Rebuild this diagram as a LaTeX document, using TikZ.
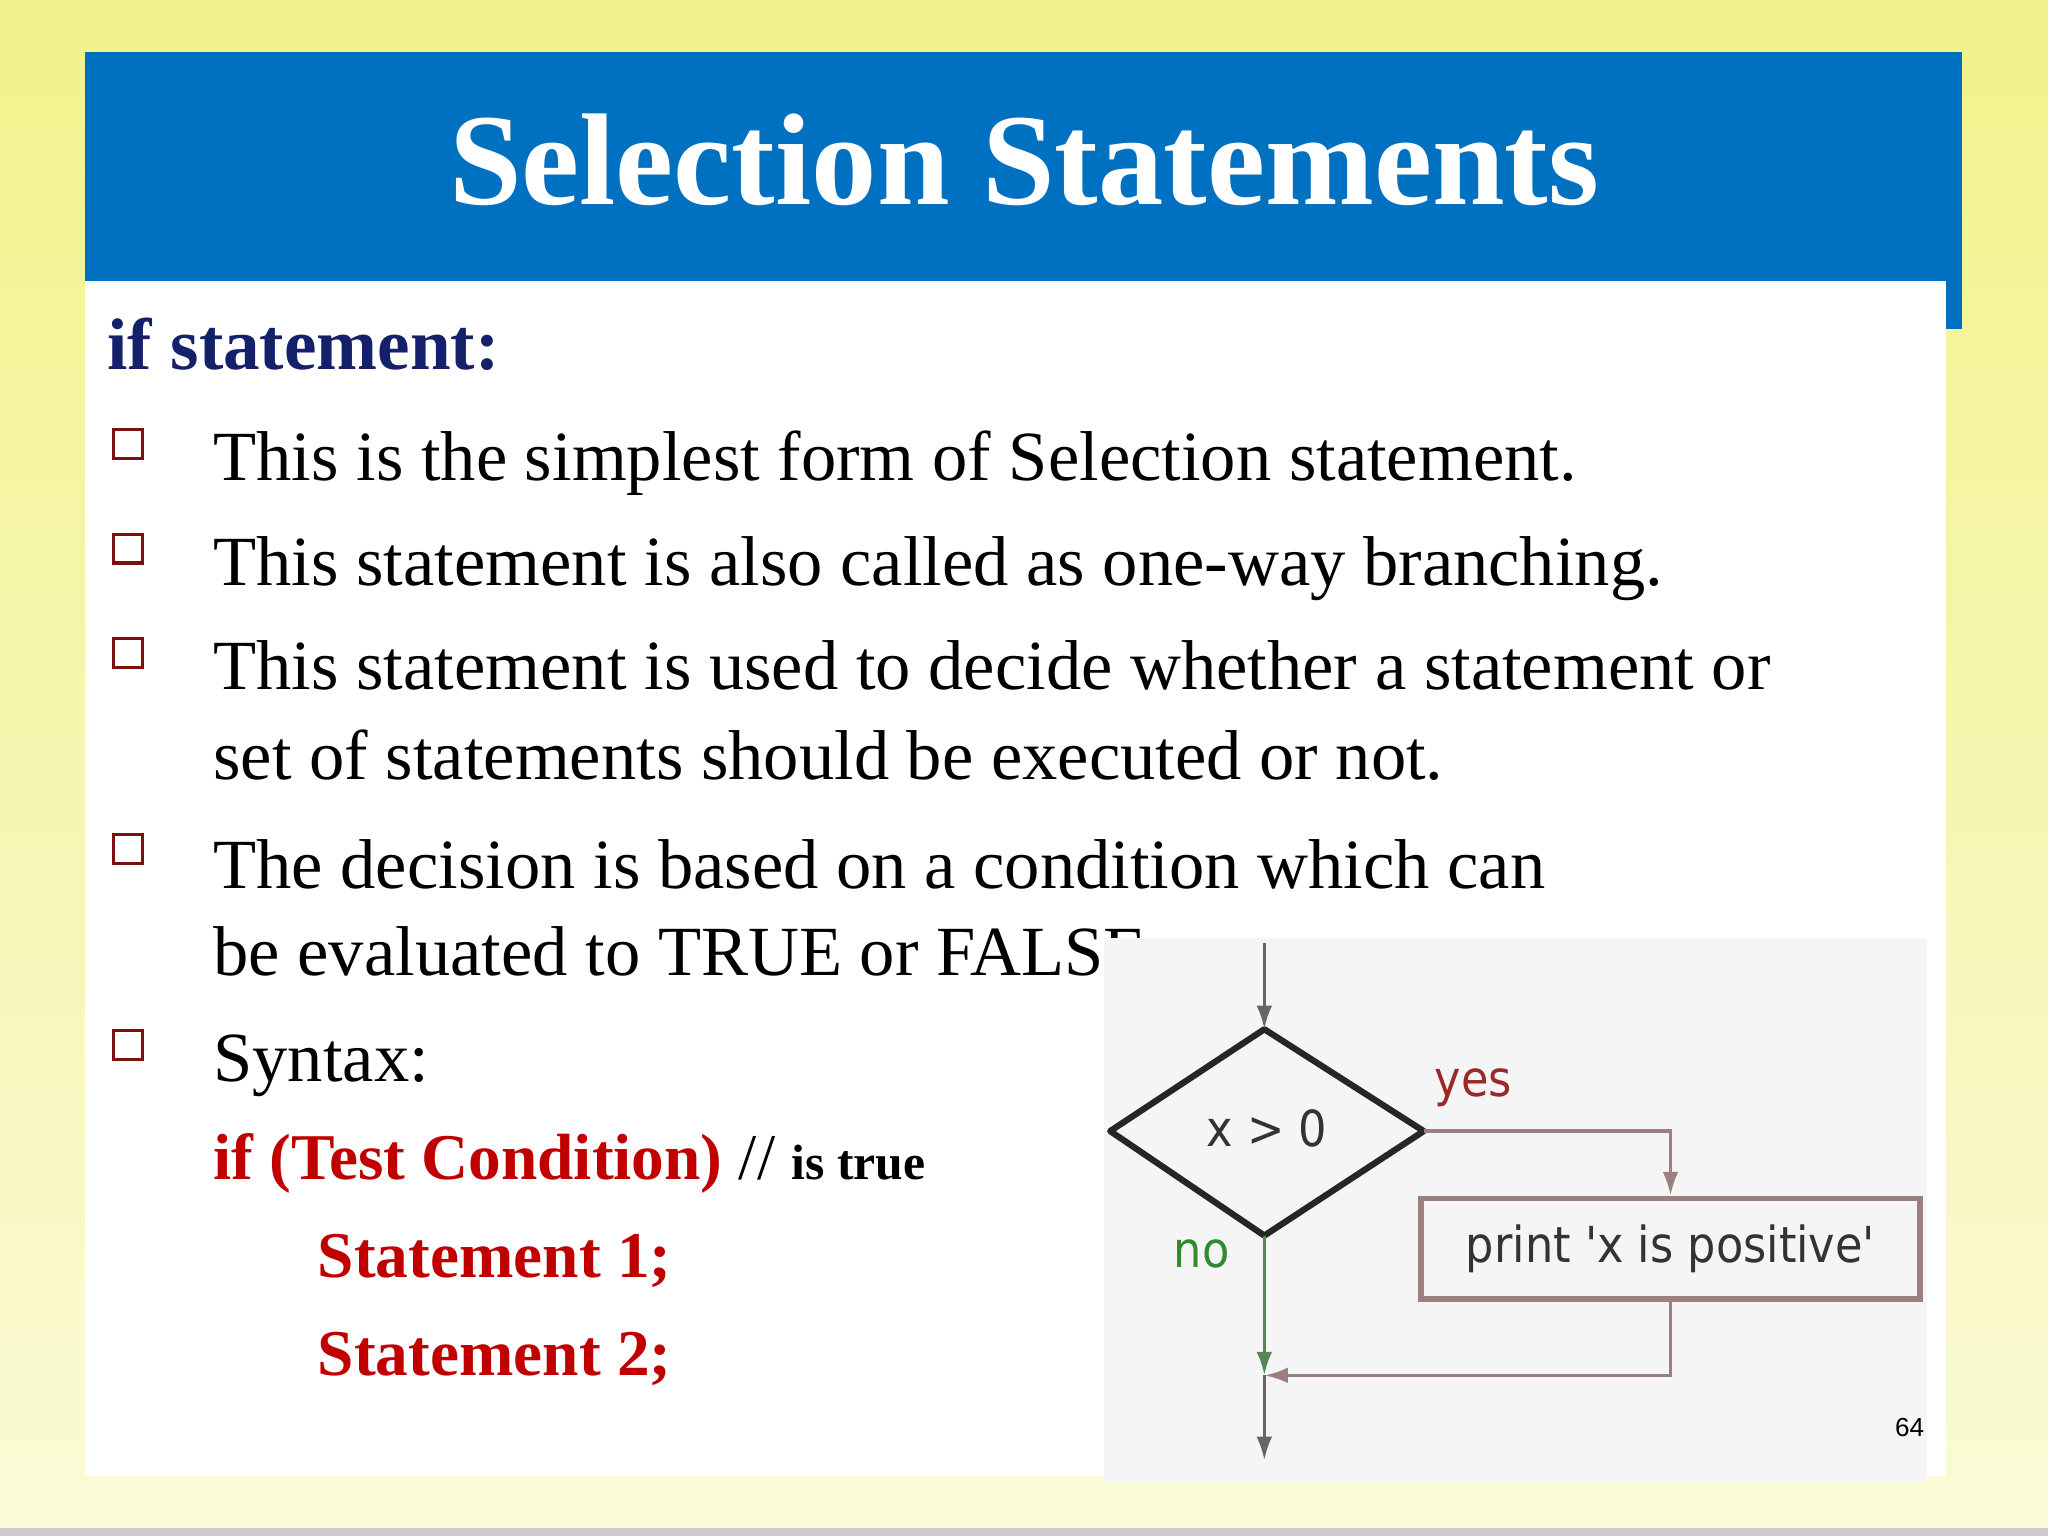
\documentclass[tikz,border=0pt]{standalone}
\usepackage{fontspec}
\setmainfont{Liberation Serif}
\newfontfamily\fc{DejaVu Sans Condensed}
\newfontfamily\fs{Liberation Sans}
\usetikzlibrary{arrows.meta}
\definecolor{hblue}{HTML}{0070C0}
\definecolor{navy}{HTML}{14206A}
\definecolor{cred}{HTML}{C00000}
\definecolor{bred}{HTML}{7A1010}
\definecolor{yesc}{HTML}{9A2A2A}
\definecolor{noc}{HTML}{2E8B2E}
\definecolor{boxc}{HTML}{9C8080}
\tikzset{
 body/.style={anchor=base west,inner sep=0pt,font=\fontsize{27}{30}\selectfont},
 bul/.style={draw=bred,line width=1.2pt,minimum size=11pt,inner sep=0pt},
 code/.style={anchor=base west,inner sep=0pt,text=cred,font=\bfseries\fontsize{25}{28}\selectfont},
 fl/.style={line width=1.3pt,-{Latex[length=9pt,width=6pt]}},
}
\begin{document}
\begin{tikzpicture}[x=0.5pt,y=-0.5pt]
\useasboundingbox (0,0) rectangle (1568,1176);
\shade[top color={rgb,255:red,242;green,242;blue,140},bottom color={rgb,255:red,250;green,250;blue,215}] (0,0) rectangle (1568,1176);
\fill[gray!40] (0,1170) rectangle (1568,1176);
\fill[hblue] (65,40) rectangle (1502,252);
\fill[white] (65,215) rectangle (1490,1130);
\node[text=white,font=\bfseries\fontsize{50}{55}\selectfont] (title) at (784,122) {Selection Statements};
\node[anchor=base west,inner sep=0pt,text=navy,font=\bfseries\fontsize{28}{30}\selectfont] (ifs) at (82,283) {if statement:};
\foreach \y/\n in {340/b1,420/b2,500/b3,650/b4,800/b5} \node[bul] (\n) at (98,\y) {};
\node[body] (t1) at (163,368) {This is the simplest form of Selection statement.};
\node[body] (t2) at (163,448) {This statement is also called as one-way branching.};
\node[body] (t3) at (163,528) {This statement is used to decide whether a statement or};
\node[body] (t3b) at (163,597) {set of statements should be executed or not.};
\node[body] (t4) at (163,680) {The decision is based on a condition which can};
\node[body] (t4b) at (163,747) {be evaluated to TRUE or FALSE.};
\node[body] (t5) at (163,828) {Syntax:};
\node[code] (c1) at (163,903) {if (Test Condition) \textmd{\textcolor{black}{//}} \textcolor{black}{\fontsize{19}{20}\selectfont is true}};
\node[code] (c2) at (243,978) {Statement 1;};
\node[code] (c3) at (243,1053) {Statement 2;};
% flowchart image
\fill[gray!8] (845,718) rectangle (1475,1135);
\coordinate (top) at (968,722);
\coordinate (dt) at (968,788); \coordinate (dr) at (1090,866);
\coordinate (db) at (968,946); \coordinate (dl) at (850,866);
\draw[line width=2.4pt,black!85,line join=round] (dt)--(dr)--(db)--(dl)--cycle;
\node[font=\fc\fontsize{19}{20}\selectfont,text=black!80] (cond) at (970,864) {x > 0};
\draw[fl,black!60] (top) -- (dt);
\node[draw=boxc,line width=2.2pt,minimum width=382pt/2,minimum height=77pt/2,font=\fc\fontsize{19}{20}\selectfont,text=black!80] (pr) at (1279,956) {print 'x is positive'};
\draw[fl,boxc] (dr) -| (pr.north);
\coordinate (mj) at (968,1053);
\draw[fl,boxc] (pr.south) |- (mj);
\draw[fl,noc!50!gray] (db) -- (mj);
\coordinate (out) at (968,1118);
\draw[fl,black!60] (mj) -- (out);
\node[text=yesc,font=\fc\fontsize{19}{20}\selectfont] (yes) at (1128,833) {yes};
\node[text=noc,font=\fc\fontsize{19}{20}\selectfont] (no) at (920,960) {no};
\node[font=\fs\fontsize{10}{12}\selectfont] (pg) at (1462,1093) {64};
\end{tikzpicture}
\end{document}
